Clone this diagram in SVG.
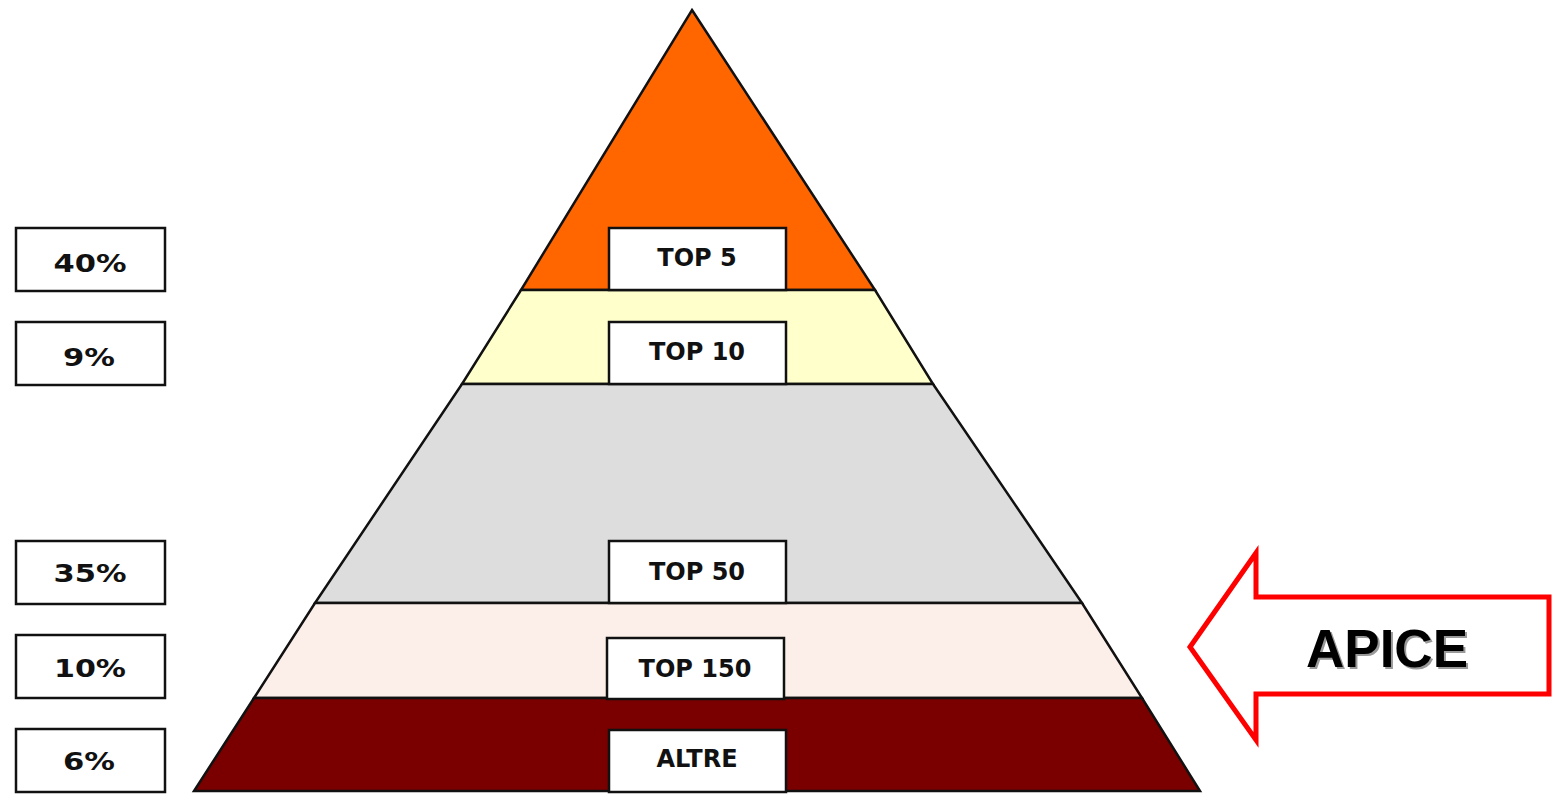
<svg xmlns="http://www.w3.org/2000/svg" width="1552" height="795" viewBox="0 0 1552 795">
<style>
.band{stroke:#111;stroke-width:2.5;stroke-linejoin:miter}
.box{fill:#fff;stroke:#111;stroke-width:2.5}
.lbl{font-family:"DejaVu Sans",Verdana,sans-serif;font-weight:bold;font-size:24px;fill:#111;text-anchor:middle}
.pct{font-family:"DejaVu Sans",Verdana,sans-serif;font-weight:bold;font-size:25px;fill:#111;text-anchor:middle}
.apice{font-family:"Liberation Sans",Arial,sans-serif;font-weight:bold;font-size:53px;text-anchor:middle}
</style>
<rect width="1552" height="795" fill="#fff"/>
<g id="pyramid">
<polygon id="band-top5" class="band" fill="#FF6600" points="692,10 875,290 521,290"/>
<polygon id="band-top10" class="band" fill="#FFFFCC" points="521,290 875,290 933,384 462,384"/>
<polygon id="band-top50" class="band" fill="#DDDDDD" points="462,384 933,384 1082,603 315,603"/>
<polygon id="band-top150" class="band" fill="#FCEFEA" points="315,603 1082,603 1142,698 254,698"/>
<polygon id="band-altre" class="band" fill="#7A0000" points="254,698 1142,698 1200,791 194,791"/>
</g>
<g id="node-top5"><rect class="box" x="609" y="228" width="177" height="62"/><text class="lbl" x="697" y="266">TOP 5</text></g>
<g id="node-top10"><rect class="box" x="609" y="322" width="177" height="62"/><text class="lbl" x="697" y="360">TOP 10</text></g>
<g id="node-top50"><rect class="box" x="609" y="541" width="177" height="62"/><text class="lbl" x="697" y="580">TOP 50</text></g>
<g id="node-top150"><rect class="box" x="607" y="638" width="177" height="61"/><text class="lbl" x="695" y="677">TOP 150</text></g>
<g id="node-altre"><rect class="box" x="609" y="730" width="177" height="62"/><text class="lbl" x="697" y="767">ALTRE</text></g>
<g id="pct-40"><rect class="box" x="16" y="228" width="149" height="63"/><text class="pct" x="90" y="272" textLength="73" lengthAdjust="spacingAndGlyphs">40%</text></g>
<g id="pct-9"><rect class="box" x="16" y="322" width="149" height="63"/><text class="pct" x="89" y="366" textLength="52" lengthAdjust="spacingAndGlyphs">9%</text></g>
<g id="pct-35"><rect class="box" x="16" y="541" width="149" height="63"/><text class="pct" x="90" y="582" textLength="73" lengthAdjust="spacingAndGlyphs">35%</text></g>
<g id="pct-10"><rect class="box" x="16" y="635" width="149" height="63"/><text class="pct" x="90" y="677" textLength="72" lengthAdjust="spacingAndGlyphs">10%</text></g>
<g id="pct-6"><rect class="box" x="16" y="729" width="149" height="63"/><text class="pct" x="89" y="770" textLength="52" lengthAdjust="spacingAndGlyphs">6%</text></g>
<g id="arrow-apice">
<polygon points="1190,647 1256,553 1256,597 1549,597 1549,694 1256,694 1256,740" fill="#fff" stroke="#FF0000" stroke-width="5" stroke-linejoin="miter"/>
<text class="apice" x="1389" y="669" fill="#999">APICE</text>
<text class="apice" x="1387" y="667" fill="#000">APICE</text>
</g>
</svg>
